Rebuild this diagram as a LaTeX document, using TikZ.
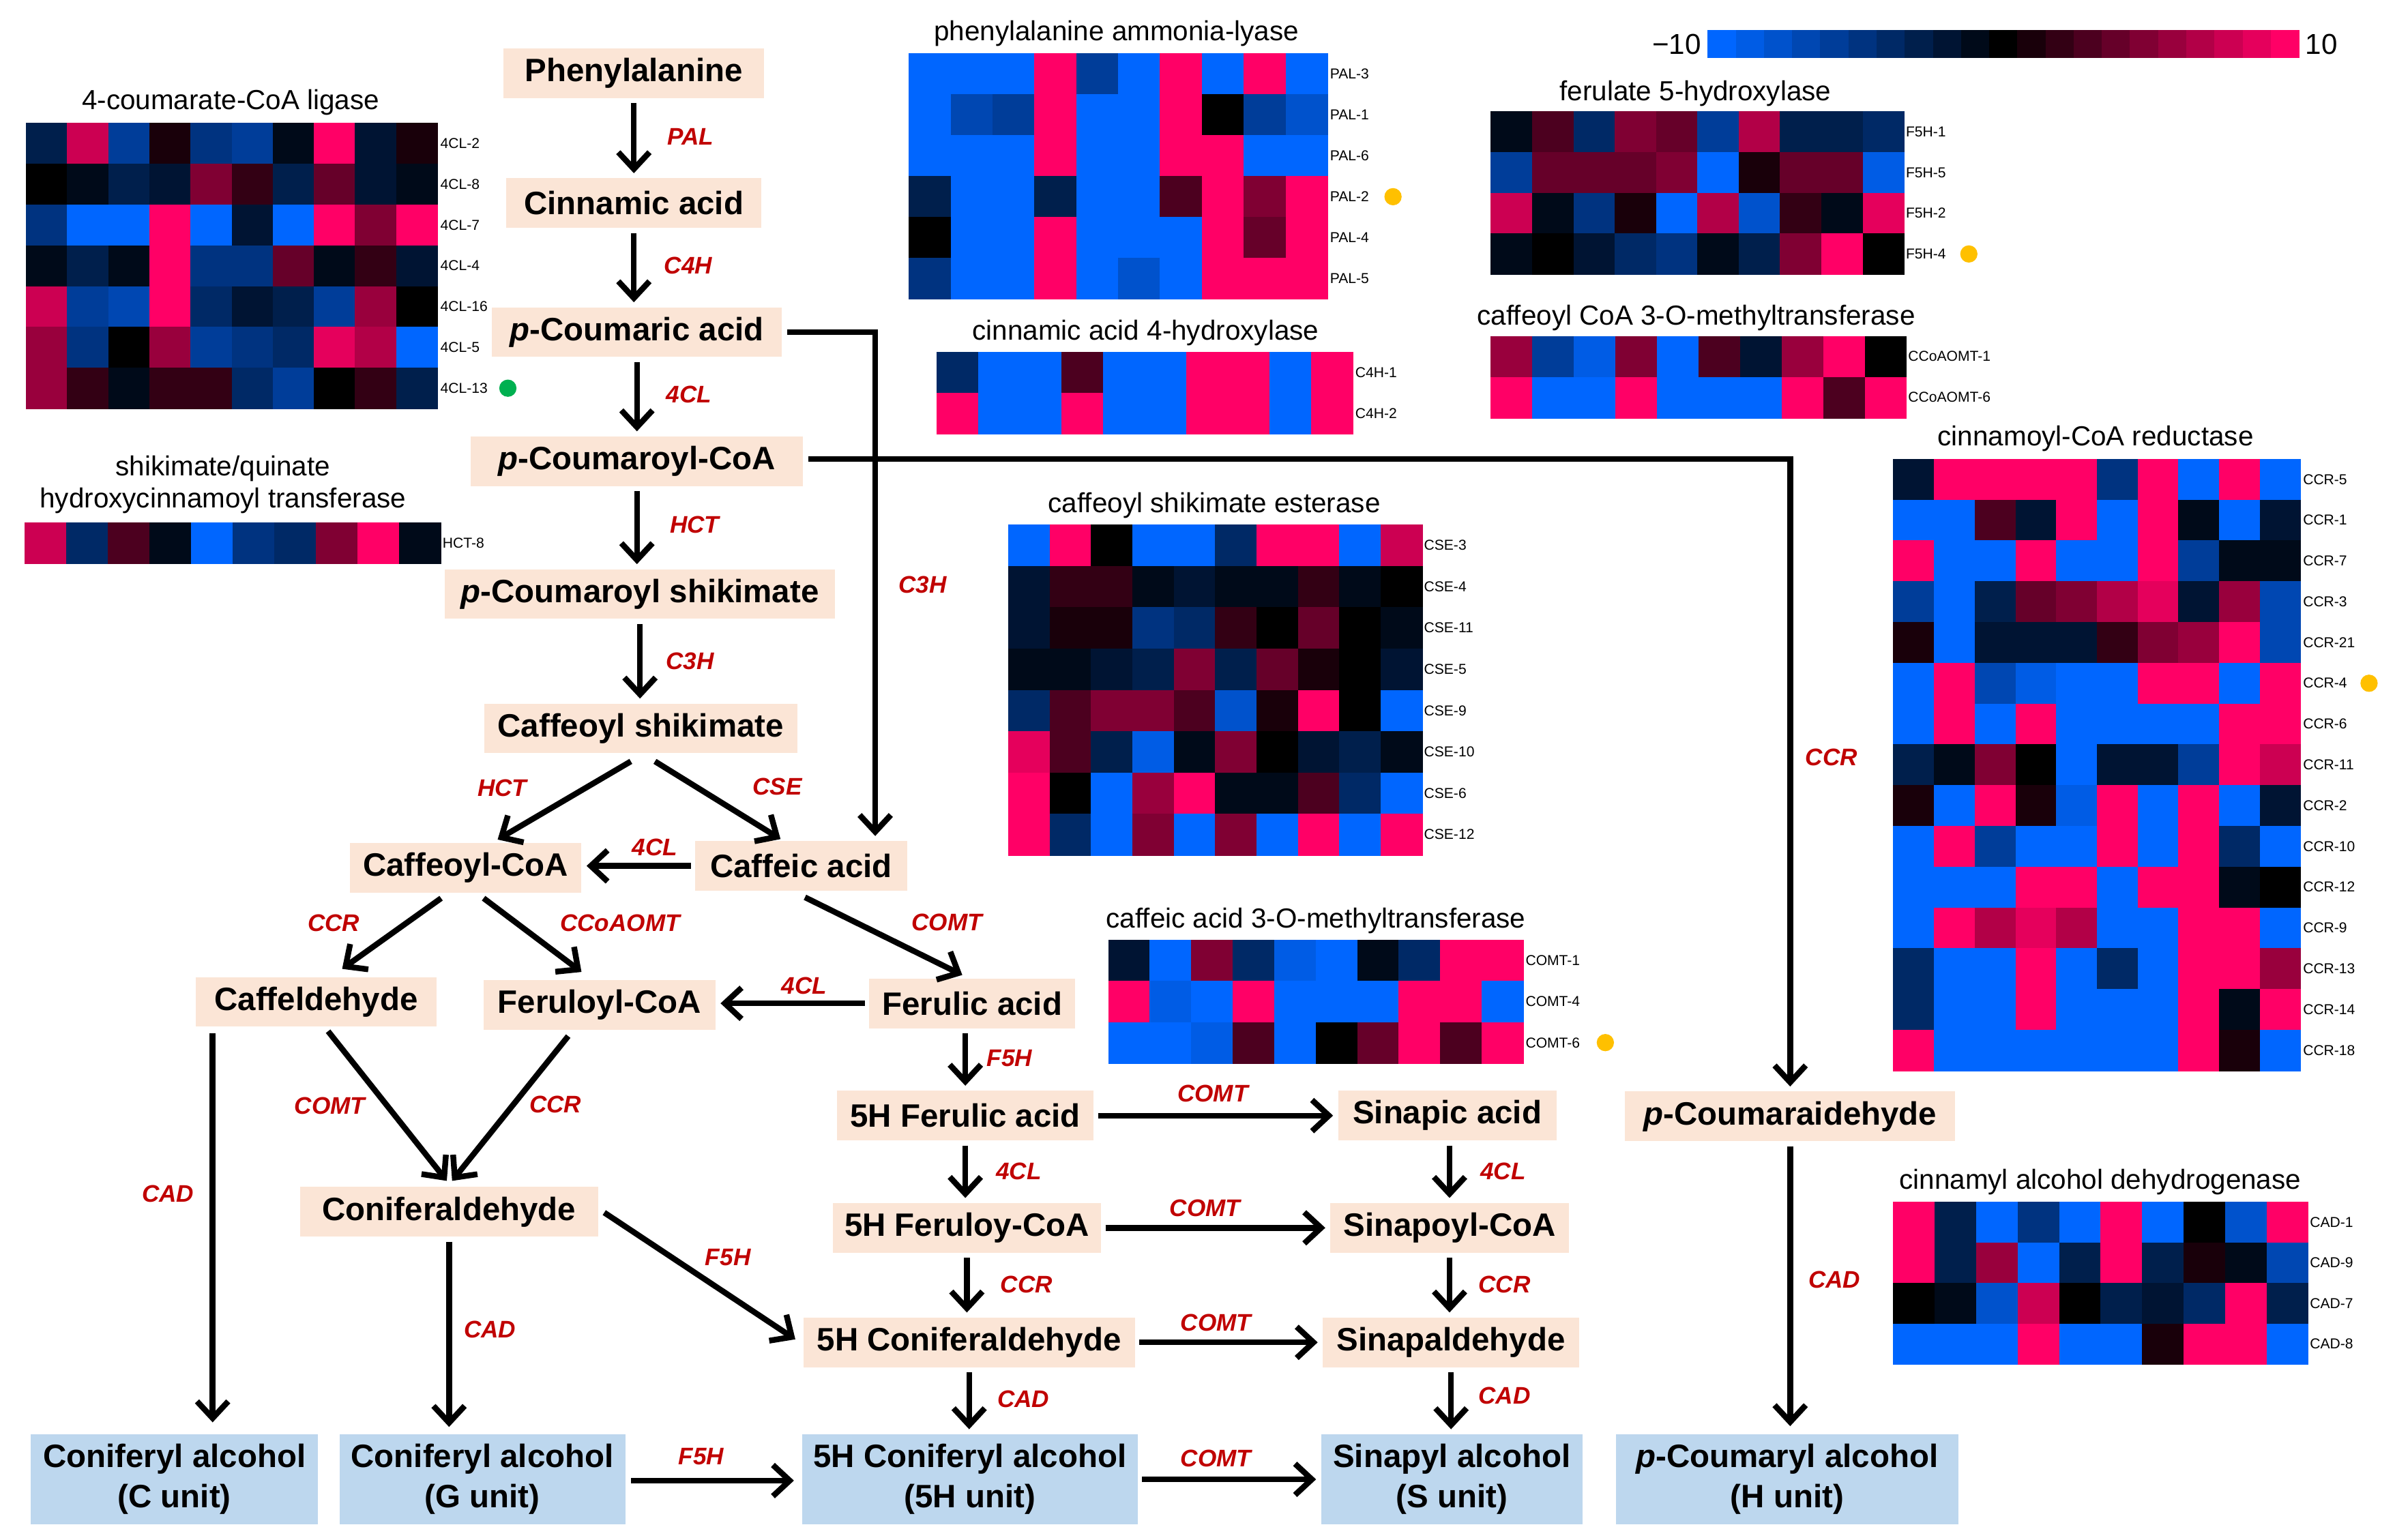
\documentclass[tikz,border=0pt]{standalone}
\usepackage{fontspec}
\setmainfont{Liberation Sans}
\usetikzlibrary{arrows.meta,calc}
\definecolor{hb}{RGB}{0,102,255}
\definecolor{hr}{RGB}{255,0,102}
\definecolor{peach}{RGB}{251,229,214}
\definecolor{lblue}{RGB}{189,215,238}
\definecolor{enzred}{RGB}{192,0,0}
\definecolor{dotY}{RGB}{255,192,0}
\definecolor{dotG}{RGB}{0,176,80}
% heat map: x0, ytop, cell width, row height, rows
\newcommand\hmap[5]{%
 \foreach \row [count=\r from 0] in {#5}{%
  \foreach \v [count=\c from 0] in \row {%
   \pgfmathtruncatemacro\pp{abs(\v)*10}%
   \ifnum\v<0 \colorlet{cc}{hb!\pp!black}\else\colorlet{cc}{hr!\pp!black}\fi
   \fill[cc] ({#1+\c*#3},{#2+\r*#4}) rectangle ({#1+(\c+1)*#3+0.4},{#2+(\r+1)*#4+0.4});
  }}}
% row labels: x, ytop, row height, names
\newcommand\hlabels[4]{%
 \foreach \t [count=\r from 0] in {#4}{%
  \node[hlab] (lab-\t) at (#1,{#2+(\r+0.5)*#3}) {\t};}}
\newcommand\vdown[2]{\draw[arr] ($(#1.south)+(0,3)$) -- ($(#1.south |- #2.north)+(0,-3)$);}
\newcommand\hleft[2]{\draw[arr] ($(#1.west)+(-2.5,0)$) -- ($(#2.east |- #1.west)+(3,0)$);}
\newcommand\hright[2]{\draw[arr] ($(#1.east)+(2.5,0)$) -- ($(#2.west |- #1.east)+(-3,0)$);}
\begin{document}
\begin{tikzpicture}[x=0.02239cm,y=-0.02239cm,
 met/.style={fill=peach, font=\fontsize{13.5}{15}\selectfont\bfseries, inner xsep=2pt, inner ysep=0pt, minimum height=20.7pt},
 unitbox/.style={fill=lblue, font=\fontsize{13.5}{16.8}\selectfont\bfseries, align=center, inner xsep=2pt, inner ysep=0pt, minimum height=37.6pt},
 enz/.style={text=enzred, font=\fontsize{10}{12}\selectfont\bfseries\itshape, inner sep=0pt},
 arr/.style={line width=2.4pt, -{Straight Barb[length=7pt,width=13pt]}},
 line/.style={line width=2.4pt},
 htitle/.style={font=\fontsize{11.5}{13.4}\selectfont, inner sep=0pt, align=center},
 hlab/.style={font=\fontsize{6}{7}\selectfont, anchor=west, inner sep=0pt},
 hdot/.style={circle, inner sep=0pt, minimum size=7.2pt}
]
\useasboundingbox (0,0) rectangle (1568,1008.4);

% ---------------- heat maps ----------------
% 4CL
\node[htitle] (t4cl) at (151,67) {4-coumarate-CoA ligase};
\hmap{17}{80.6}{26.93}{26.7}{{-3,8,-6,1,-5,-6,-1,10,-2,1},{0,-1,-3,-2,5,2,-3,4,-2,-1},{-5,-10,-10,10,-10,-2,-10,10,5,10},{-1,-3,-1,10,-5,-5,4,-1,2,-2},{8,-6,-7,10,-4,-2,-3,-6,6,0},{6,-5,0,6,-6,-5,-4,9,7,-10},{6,2,-1,2,2,-4,-6,0,2,-3}}
\hlabels{288}{80.6}{26.7}{4CL-2,4CL-8,4CL-7,4CL-4,4CL-16,4CL-5,4CL-13}
\node[hdot, fill=dotG] (dg) at (332.5,254.2) {};
% HCT
\node[htitle] (thct) at (146,317.5) {shikimate/quinate\\hydroxycinnamoyl transferase};
\hmap{16}{342}{27.25}{27}{{8,-4,3,-1,-10,-5,-4,5,10,-1}}
\hlabels{289.5}{342}{27}{HCT-8}
% PAL
\node[htitle] (tpal) at (731,22) {phenylalanine ammonia-lyase};
\hmap{595}{35}{27.4}{26.8}{{-10,-10,-10,10,-6,-10,10,-10,10,-10},{-10,-7,-6,10,-10,-10,10,0,-6,-8},{-10,-10,-10,10,-10,-10,10,10,-10,-10},{-3,-10,-10,-3,-10,-10,3,10,5,10},{0,-10,-10,10,-10,-10,-10,10,4,10},{-5,-10,-10,10,-10,-8,-10,10,10,10}}
\hlabels{870.5}{35}{26.8}{PAL-3,PAL-1,PAL-6,PAL-2,PAL-4,PAL-5}
\node[hdot, fill=dotY] (dpal) at (912,128.8) {};
% C4H
\node[htitle] (tc4h) at (750,218) {cinnamic acid 4-hydroxylase};
\hmap{613.3}{230.5}{27.24}{26.9}{{-4,-10,-10,3,-10,-10,10,10,-10,10},{10,-10,-10,10,-10,-10,10,10,-10,10}}
\hlabels{887}{230.5}{26.9}{C4H-1,C4H-2}
% F5H
\node[htitle] (tf5h) at (1110,61) {ferulate 5-hydroxylase};
\hmap{976}{73}{27.05}{26.65}{{-1,3,-4,5,4,-6,7,-3,-3,-4},{-6,4,4,4,5,-10,1,4,4,-9},{8,-1,-5,1,-10,7,-8,2,-1,9},{-1,0,-2,-4,-5,-1,-3,5,10,0}}
\hlabels{1247.5}{73}{26.65}{F5H-1,F5H-5,F5H-2,F5H-4}
\node[hdot, fill=dotY] (df5h) at (1289,166.3) {};
% CCoAOMT
\node[htitle] (tccoa) at (1110.5,208) {caffeoyl CoA 3-O-methyltransferase};
\hmap{976}{220}{27.2}{26.8}{{6,-6,-9,5,-10,3,-2,6,10,0},{10,-10,-10,10,-10,-10,-10,10,3,10}}
\hlabels{1249}{220}{26.8}{CCoAOMT-1,CCoAOMT-6}
% CSE
\node[htitle] (tcse) at (795,331) {caffeoyl shikimate esterase};
\hmap{660}{343.5}{27.1}{27.06}{{-10,10,0,-10,-10,-4,10,10,-10,8},{-2,2,2,-1,-2,-1,-1,2,-1,0},{-2,1,1,-5,-4,2,0,4,0,-1},{-1,-1,-2,-3,5,-3,4,1,0,-2},{-4,3,5,5,3,-8,1,10,0,-10},{9,3,-3,-9,-1,5,0,-2,-3,-1},{10,0,-10,6,10,-1,-1,3,-4,-10},{10,-4,-10,5,-10,5,-10,10,-10,10}}
\hlabels{932}{343.5}{27.06}{CSE-3,CSE-4,CSE-11,CSE-5,CSE-9,CSE-10,CSE-6,CSE-12}
% COMT
\node[htitle] (tcomt) at (861.5,603) {caffeic acid 3-O-methyltransferase};
\hmap{725.5}{615.5}{27.17}{26.9}{{-2,-10,5,-4,-9,-10,-1,-4,10,10},{10,-9,-10,10,-10,-10,-10,10,10,-10},{-10,-10,-9,3,-10,0,4,10,3,10}}
\hlabels{998.5}{615.5}{26.9}{COMT-1,COMT-4,COMT-6}
\node[hdot, fill=dotY] (dcomt) at (1051,682.7) {};
% CCR
\node[htitle] (tccr) at (1372,287) {cinnamoyl-CoA reductase};
\hmap{1239.5}{300.5}{26.66}{26.7}{{-2,10,10,10,10,-5,10,-10,10,-10},{-10,-10,3,-2,10,-10,10,-1,-10,-2},{10,-10,-10,10,-10,-10,10,-6,-1,-1},{-6,-10,-3,4,5,7,9,-2,6,-7},{1,-10,-2,-2,-2,2,5,6,10,-7},{-10,10,-7,-9,-10,-10,10,10,-10,10},{-10,10,-10,10,-10,-10,-10,-10,10,10},{-3,-1,5,0,-10,-2,-2,-6,10,8},{1,-10,10,1,-9,10,-10,10,-10,-2},{-10,10,-6,-10,-10,10,-10,10,-4,-10},{-10,-10,-10,10,10,-10,10,10,-1,0},{-10,10,7,9,7,-10,-10,10,10,-10},{-4,-10,-10,10,-10,-4,-10,10,10,6},{-4,-10,-10,10,-10,-10,-10,10,-1,10},{10,-10,-10,-10,-10,-10,-10,10,1,-10}}
\hlabels{1507.5}{300.5}{26.7}{CCR-5,CCR-1,CCR-7,CCR-3,CCR-21,CCR-4,CCR-6,CCR-11,CCR-2,CCR-10,CCR-12,CCR-9,CCR-13,CCR-14,CCR-18}
\node[hdot, fill=dotY] (dccr) at (1551,447.4) {};
% CAD
\node[htitle] (tcad) at (1375,774) {cinnamyl alcohol dehydrogenase};
\hmap{1239.5}{787}{27.15}{26.6}{{10,-3,-10,-5,-10,10,-10,0,-8,10},{10,-3,6,-10,-3,10,-3,1,-1,-7},{0,-1,-8,8,0,-3,-2,-4,10,-3},{-10,-10,-10,10,-10,-10,1,10,10,-10}}
\hlabels{1512}{787}{26.6}{CAD-1,CAD-9,CAD-7,CAD-8}
% colour bar
\foreach \k in {-10,...,10}{%
 \pgfmathtruncatemacro\pp{abs(\k)*10}%
 \ifnum\k<0 \colorlet{cc}{hb!\pp!black}\else\colorlet{cc}{hr!\pp!black}\fi
 \fill[cc] ({1118+(\k+10)*18.43},19.7) rectangle ({1118+(\k+11)*18.43+0.4},37.9);}
\node[font=\fontsize{12}{14}\selectfont, anchor=east, inner sep=0pt] (cbmin) at (1114,29) {−10};
\node[font=\fontsize{12}{14}\selectfont, anchor=west, inner sep=0pt] (cbmax) at (1509,29) {10};

% ---------------- pathway ----------------
\node[met, minimum width=108.6pt] (phe) at (415,48) {Phenylalanine};
\node[met, minimum width=106.4pt] (cin) at (415,133) {Cinnamic acid};
\node[met, minimum width=121pt] (pca) at (417,217.5) {\textit{p}-Coumaric acid};
\node[met, minimum width=138.5pt] (pcc) at (417,302) {\textit{p}-Coumaroyl-CoA};
\node[met, minimum width=162.8pt] (pcs) at (419,389) {\textit{p}-Coumaroyl shikimate};
\node[met, minimum width=130.6pt] (cs) at (419.5,477) {Caffeoyl shikimate};
\node[met, minimum width=96.7pt] (cfc) at (304.8,568.3) {Caffeoyl-CoA};
\node[met, minimum width=88.5pt] (cfa) at (524.5,567) {Caffeic acid};
\node[met, minimum width=100.5pt] (cfd) at (207,656) {Caffeldehyde};
\node[met, minimum width=96.7pt] (fcoa) at (392.5,658) {Feruloyl-CoA};
\node[met, minimum width=86pt] (fa) at (636.5,657) {Ferulic acid};
\node[met, minimum width=124.3pt] (conald) at (294,793.5) {Coniferaldehyde};
\node[met, minimum width=107pt] (hfa) at (632,730.5) {5H Ferulic acid};
\node[met, minimum width=91pt] (sa) at (947.5,730.5) {Sinapic acid};
\node[met, minimum width=112pt] (hfc) at (633,804) {5H Feruloy-CoA};
\node[met, minimum width=99.4pt] (sc) at (949,804) {Sinapoyl-CoA};
\node[met, minimum width=138.2pt] (hcald) at (634.5,879) {5H Coniferaldehyde};
\node[met, minimum width=107pt] (sald) at (950,879) {Sinapaldehyde};
\node[met, minimum width=137.6pt] (pcald) at (1172,731) {\textit{p}-Coumaraidehyde};
\node[unitbox, minimum width=119.6pt] (uC) at (114.2,968.7) {Coniferyl alcohol\\(C unit)};
\node[unitbox, minimum width=119.2pt] (uG) at (315.8,968.7) {Coniferyl alcohol\\(G unit)};
\node[unitbox, minimum width=140pt] (u5H) at (635,968.7) {5H Coniferyl alcohol\\(5H unit)};
\node[unitbox, minimum width=109pt] (uS) at (950.5,968.7) {Sinapyl alcohol\\(S unit)};
\node[unitbox, minimum width=142.7pt] (uH) at (1170,968.7) {\textit{p}-Coumaryl alcohol\\(H unit)};

% arrows
\vdown{phe}{cin}
\vdown{cin}{pca}
\vdown{pca}{pcc}
\vdown{pcc}{pcs}
\vdown{pcs}{cs}
\draw[arr] ($(cs.south)+(-6.5,5)$) -- ($(cfc.north)+(21,-2)$);
\draw[arr] ($(cs.south)+(9.3,5)$) -- ($(cfa.north)+(-13.5,-1)$);
\draw[arr] ($(pca.east)+(3,0)$) -| ($(cfa.north)+(48.5,-3)$);
\draw[arr] ($(pcc.east)+(3,-1.5)$) -| ($(pcald.north)+(0,-3)$);
\hleft{cfa}{cfc}
\draw[arr] ($(cfc.south)+(-16,3.3)$) -- ($(cfd.north)+(17,-5)$);
\draw[arr] ($(cfc.south)+(11.8,3.3)$) -- ($(fcoa.north)+(-11.8,-5)$);
\draw[arr] ($(cfa.south)+(2.5,4)$) -- ($(fa.north)+(-6.5,-2)$);
\hleft{fa}{fcoa}
\draw[arr] ($(cfd.south)+(7.8,2.7)$) -- ($(conald.north)+(-1.5,-3.7)$);
\draw[arr] ($(fcoa.south)+(-20.5,3.9)$) -- ($(conald.north)+(2,-3.7)$);
\draw[arr] ($(cfd.south)+(-67.8,4)$) -- ($(cfd.south |- uC.north)+(-67.8,-7.5)$);
\draw[arr] ($(conald.south)+(0,3)$) -- ($(conald.south |- uG.north)+(0,-4.5)$);
\draw[arr] ($(conald.east)+(3.7,0.5)$) -- ($(hcald.west)+(-5,-2)$);
\draw[arr] ($(uG.east)+(3.5,0.8)$) -- ($(u5H.west)+(-5,0.8)$);
\draw[arr] ($(fa.south)+(-4.5,3)$) -- ($(hfa.north)+(0,-3)$);
\hright{hfa}{sa}
\vdown{hfa}{hfc}
\draw[arr] ($(sc.north |- sa.south)+(0,3)$) -- ($(sc.north)+(0,-3)$);
\hright{hfc}{sc}
\vdown{hfc}{hcald}
\vdown{sc}{sald}
\hright{hcald}{sald}
\vdown{hcald}{u5H}
\vdown{sald}{uS}
\hright{u5H}{uS}
\draw[arr] ($(pcald.south)+(0,3)$) -- ($(pcald.south |- uH.north)+(0,-5)$);

% enzyme labels
\node[enz] (e1) at (452,89.5) {PAL};
\node[enz] (e2) at (450.6,173.8) {C4H};
\node[enz] (e3) at (451,258.5) {4CL};
\node[enz] (e4) at (454.7,343.8) {HCT};
\node[enz] (e5) at (451.8,433) {C3H};
\node[enz] (e6) at (604,383) {C3H};
\node[enz] (e7) at (1199,496) {CCR};
\node[enz] (e8) at (328.8,516) {HCT};
\node[enz] (e9) at (509,515) {CSE};
\node[enz] (e10) at (428.8,555) {4CL};
\node[enz] (e11) at (218.5,604.4) {CCR};
\node[enz] (e12) at (406,604.4) {CCoAOMT};
\node[enz] (e13) at (620,604) {COMT};
\node[enz] (e14) at (526.6,645.6) {4CL};
\node[enz] (e15) at (216,724) {COMT};
\node[enz] (e16) at (363.6,723) {CCR};
\node[enz] (e17) at (110,781.5) {CAD};
\node[enz] (e18) at (320.7,870.6) {CAD};
\node[enz] (e19) at (476.6,823.4) {F5H};
\node[enz] (e20) at (459,953.7) {F5H};
\node[enz] (e21) at (661,693) {F5H};
\node[enz] (e22) at (794,716) {COMT};
\node[enz] (e23) at (667,767) {4CL};
\node[enz] (e24) at (984,767) {4CL};
\node[enz] (e25) at (789,791) {COMT};
\node[enz] (e26) at (672,841) {CCR};
\node[enz] (e27) at (985,841) {CCR};
\node[enz] (e28) at (796,866) {COMT};
\node[enz] (e29) at (670,916) {CAD};
\node[enz] (e30) at (985,914) {CAD};
\node[enz] (e31) at (796,955) {COMT};
\node[enz] (e32) at (1201,838) {CAD};
\end{tikzpicture}
\end{document}
